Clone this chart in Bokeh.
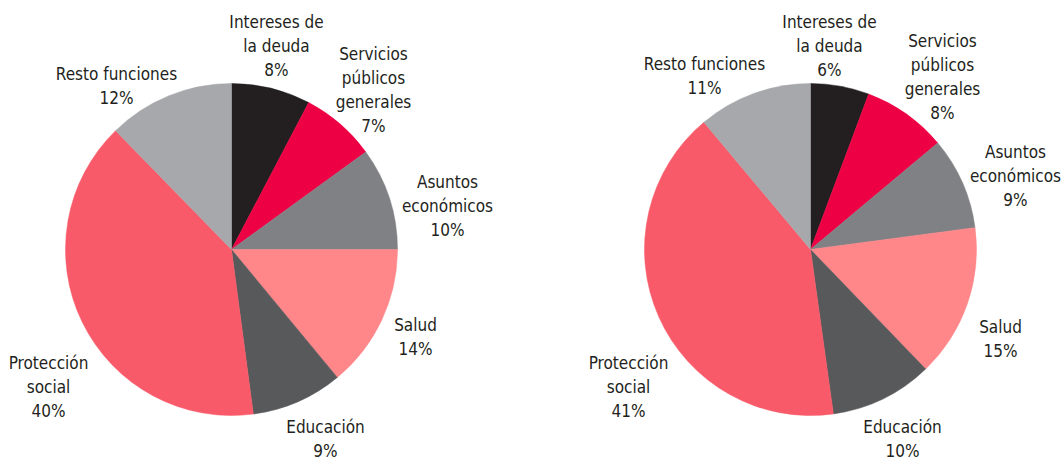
import math
from bokeh.plotting import figure
from bokeh.models import ColumnDataSource, Range1d
from bokeh.core.properties import value
from bokeh.embed import file_html
from bokeh.resources import INLINE

# ---- data ----
categories = ["Intereses de\nla deuda", "Servicios\npúblicos\ngenerales", "Asuntos\neconómicos",
              "Salud", "Educación", "Protección\nsocial", "Resto funciones"]
values_left = [7.7, 7.3, 10.0, 14.0, 8.9, 39.8, 12.3]
values_right = [5.7, 8.2, 9.0, 14.9, 10.0, 41.1, 11.1]
colors = ["#231f20", "#ee0045", "#808184", "#ff878a", "#58595b", "#f95a69", "#a7a8ac"]

# ---- layout (screen pixels) ----
W, H = 1064, 457
centers = [(231, 249), (810, 249)]
R = 166
label_offsets_left = [(45, -204), (142, -160), (216, -44), (184, 87), (94, 189), (-183, 137), (-115, -164)]
label_offsets_right = [(19, -204), (132, -173), (205, -74), (190, 89), (92, 189), (-182, 137), (-106, -174)]

p = figure(width=W, height=H, output_backend="svg", toolbar_location=None,
           x_range=Range1d(0, W), y_range=Range1d(0, H),
           min_border=0, outline_line_color=None)
p.axis.visible = False
p.grid.visible = False
p.background_fill_color = "white"
p.border_fill_color = "white"

def sy(y):
    return H - y

for (cx, cy), vals, offs in [(centers[0], values_left, label_offsets_left),
                             (centers[1], values_right, label_offsets_right)]:
    total = sum(vals)
    starts, ends = [], []
    cum = 0.0
    for v in vals:
        a0 = math.pi / 2 - 2 * math.pi * cum / total
        cum += v
        a1 = math.pi / 2 - 2 * math.pi * cum / total
        starts.append(a0)
        ends.append(a1)
    src = ColumnDataSource(dict(x=[cx] * len(vals), y=[sy(cy)] * len(vals),
                                start=starts, end=ends, color=colors))
    p.wedge(x="x", y="y", radius=R, start_angle="start", end_angle="end",
            direction="clock", fill_color="color", line_color="color", line_width=0.5,
            source=src)
    labels = [f"{c}\n{round(v)}%" for c, v in zip(categories, vals)]
    lsrc = ColumnDataSource(dict(x=[cx + dx for dx, dy in offs],
                                 y=[sy(cy + dy) for dx, dy in offs],
                                 text=labels))
    p.text(x="x", y="y", text="text", source=lsrc, text_align="center",
           text_baseline="middle", text_font=value("DejaVu Sans Condensed"),
           text_font_size="17px", text_color="#231f20", text_line_height=1.2)

open("out.html", "w").write(file_html(p, INLINE))
